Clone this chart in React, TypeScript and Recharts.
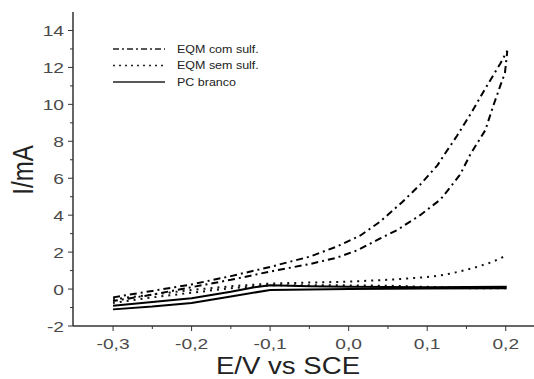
import React from 'react';
import { LineChart, Line, XAxis, YAxis, Legend } from 'recharts';

// EQM com sulf. (dash-dot) : forward then reverse sweep
const comE = [-0.3, -0.25, -0.2, -0.15, -0.1, -0.05, -0.015, 0.015, 0.04, 0.068, 0.091, 0.113, 0.123, 0.138, 0.157, 0.176, 0.193, 0.202,
  0.199, 0.193, 0.184, 0.174, 0.155, 0.142, 0.117, 0.091, 0.062, 0.036, 0.011, -0.015, -0.05, -0.1, -0.15, -0.2, -0.25, -0.3];
const comI = [-0.45, -0.1, 0.25, 0.7, 1.2, 1.75, 2.3, 2.9, 3.65, 4.7, 5.65, 6.7, 7.35, 8.3, 9.6, 11.0, 12.2, 12.9,
  11.7, 11.0, 9.9, 8.6, 7.3, 6.2, 4.85, 4.0, 3.2, 2.65, 2.1, 1.7, 1.35, 0.95, 0.5, 0.1, -0.3, -0.65];

// EQM sem sulf. (dotted) ; null separates the two sweeps
const semE = [-0.3, -0.25, -0.2, -0.15, -0.1, -0.05, 0, 0.05, 0.1, 0.12, 0.133, 0.159, 0.183, 0.2,
  0.2, 0.2, 0.15, 0.1, 0.05, 0, -0.05, -0.1, -0.15, -0.2, -0.25, -0.3];
const semI: (number | null)[] = [-0.55, -0.3, -0.05, 0.15, 0.3, 0.35, 0.4, 0.5, 0.65, 0.76, 0.87, 1.14, 1.47, 1.8,
  null, 0.05, 0.05, 0.12, 0.18, 0.2, 0.2, 0.2, 0.05, -0.2, -0.45, -0.75];

// PC branco (solid)
const pcE = [-0.3, -0.25, -0.2, -0.15, -0.12, -0.1, -0.05, 0, 0.1, 0.2,
  0.2, 0.1, 0, -0.05, -0.1, -0.15, -0.2, -0.25, -0.3];
const pcI = [-0.9, -0.7, -0.5, -0.15, 0.1, 0.2, 0.15, 0.12, 0.1, 0.12,
  0.05, 0.03, 0.0, -0.02, -0.05, -0.4, -0.75, -0.95, -1.1];

const seriesNames = ['EQM com sulf.', 'EQM sem sulf.', 'PC branco'];
const xTicks = [-0.3, -0.25, -0.2, -0.15, -0.1, -0.05, 0, 0.05, 0.1, 0.15, 0.2];
const yTicks = [-2, -1, 0, 1, 2, 3, 4, 5, 6, 7, 8, 9, 10, 11, 12, 13, 14];
const xTitle = 'E/V vs SCE';
const yTitle = 'I/mA';

const toPts = (e: number[], i: (number | null)[]) => e.map((v, k) => ({ E: v, I: i[k] }));
const comData = toPts(comE, comI);
const semData = toPts(semE, semI);
const pcData = toPts(pcE, pcI);

const FONT = '"Liberation Sans", Arial, sans-serif';
const AXIS = '#333';
const TXT = '#4a4a4a';
const SX = 1.28;

const dashStyles = ['6 3 2 3', '2 4', undefined];

const XTick = (props: any) => {
  const { x, y, payload } = props;
  const v = payload.value as number;
  const major = Math.abs(v * 10 - Math.round(v * 10)) < 1e-6;
  const label = v.toFixed(1).replace('.', ',');
  return (
    <g>
      <line x1={x} x2={x} y1={y} y2={y + (major ? 5 : 3)} stroke={AXIS} strokeWidth={1} />
      {major && (
        <text transform={`translate(${x},${y + 23}) scale(${SX},1)`} textAnchor="middle"
          fontFamily={FONT} fontSize={15} fill={TXT}>{label}</text>
      )}
    </g>
  );
};

const YTick = (props: any) => {
  const { x, y, payload } = props;
  const v = payload.value as number;
  const major = v % 2 === 0;
  return (
    <g>
      <line x1={x} x2={x - (major ? 5 : 3)} y1={y} y2={y} stroke={AXIS} strokeWidth={1} />
      {major && (
        <text transform={`translate(${x - 9},${y + 5.5}) scale(${SX},1)`} textAnchor="end"
          fontFamily={FONT} fontSize={15} fill={TXT}>{String(v)}</text>
      )}
    </g>
  );
};

const LegendBox = () => (
  <svg width={200} height={60} style={{ display: 'block' }}>
    {seriesNames.map((n, k) => (
      <g key={n}>
        <line x1={8} x2={60} y1={9 + k * 16.5} y2={9 + k * 16.5} stroke="#222" strokeWidth={1.3}
          strokeDasharray={dashStyles[k]} />
        <text transform={`translate(72,${12.5 + k * 16.5}) scale(1.25,1)`} fontFamily={FONT}
          fontSize={10} fill="#222">{n}</text>
      </g>
    ))}
  </svg>
);

export default function App() {
  return (
    <div style={{ position: 'absolute', left: 0, top: 0, width: 534, height: 379, overflow: 'hidden', background: '#fff' }}>
      <LineChart width={534} height={379} margin={{ top: 12, right: 0, left: 0, bottom: 0 }}>
        <XAxis dataKey="E" type="number" domain={[-0.351, 0.236]} allowDataOverflow ticks={xTicks}
          interval={0} height={53} tickSize={0} tickMargin={0} tickLine={false} tick={<XTick />}
          axisLine={{ stroke: AXIS, strokeWidth: 1.5 }} />
        <XAxis xAxisId="top" orientation="top" dataKey="E" type="number" domain={[-0.351, 0.236]}
          allowDataOverflow height={0} tick={false} tickLine={false} axisLine={{ stroke: '#555', strokeWidth: 1.5 }} />
        <YAxis type="number" domain={[-2, 15]} allowDataOverflow ticks={yTicks} interval={0} width={73}
          tickSize={0} tickMargin={0} tickLine={false} tick={<YTick />}
          axisLine={{ stroke: AXIS, strokeWidth: 1.5 }} />
        <Legend layout="vertical" align="center" verticalAlign="middle" content={<LegendBox />}
          wrapperStyle={{ position: 'absolute', left: 105, top: 40, width: 200, height: 60 }} />
        <Line data={comData} dataKey="I" name={seriesNames[0]} stroke="#000" strokeWidth={2}
          strokeDasharray="7 4 2 4" dot={false} isAnimationActive={false} type="linear" />
        <Line data={semData} dataKey="I" name={seriesNames[1]} stroke="#111" strokeWidth={2}
          strokeDasharray="2 5" dot={false} isAnimationActive={false} type="linear" />
        <Line data={pcData} dataKey="I" name={seriesNames[2]} stroke="#000" strokeWidth={2}
          dot={false} isAnimationActive={false} type="linear" />
      </LineChart>
      <div style={{ position: 'absolute', left: 0, top: 352, width: 576, textAlign: 'center', fontFamily: FONT, fontSize: 23, color: '#222', lineHeight: '28px', transform: 'scaleX(1.2)', transformOrigin: '288px 0' }}>
        <span style={{ position: 'relative' }}>{xTitle}</span>
      </div>
      <div style={{ position: 'absolute', left: 23, top: 170, fontFamily: FONT, fontSize: 24, color: '#222', lineHeight: '28px', whiteSpace: 'nowrap', transform: 'translate(-50%,-50%) rotate(-90deg) scaleY(1.2)' }}>
        {yTitle}
      </div>
    </div>
  );
}
